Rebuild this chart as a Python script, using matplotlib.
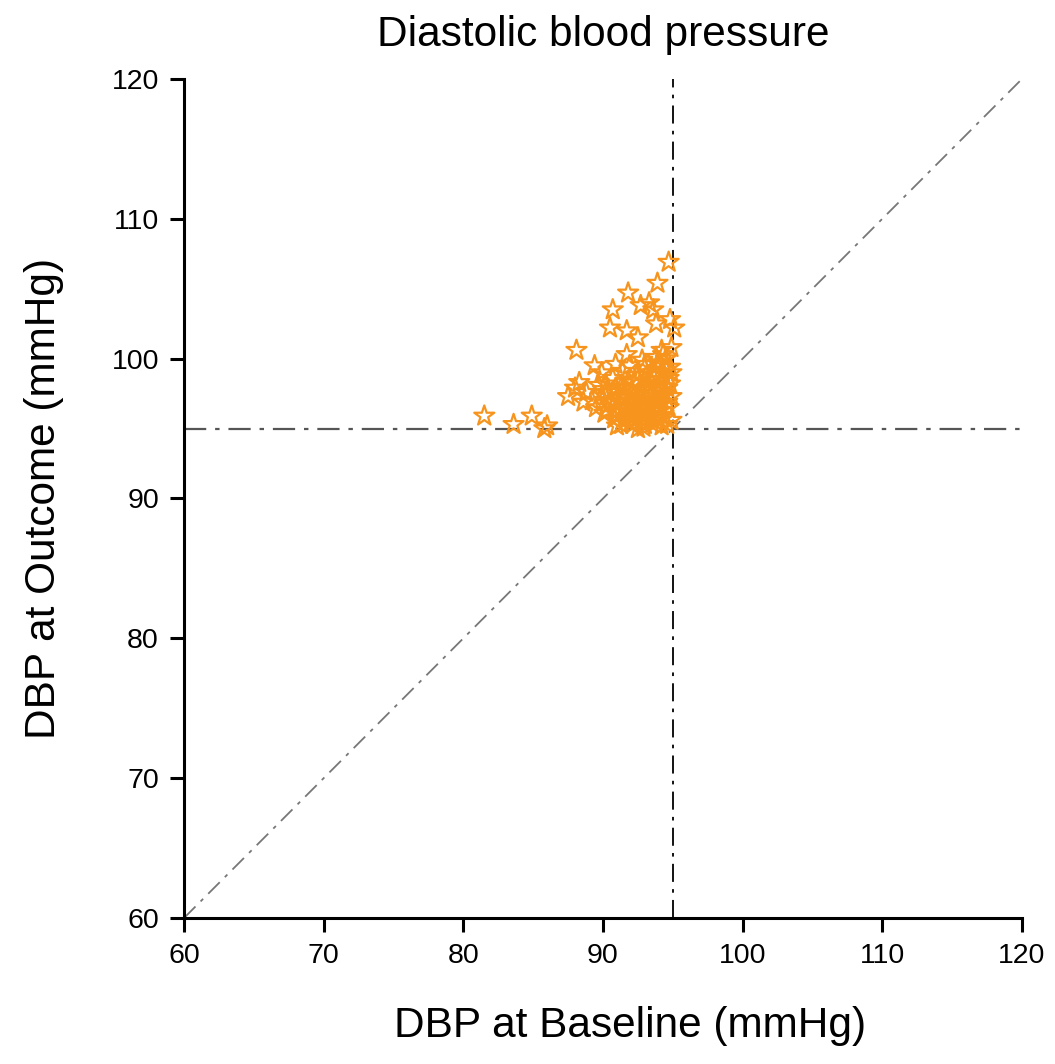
import matplotlib
matplotlib.use("Agg")
import matplotlib.pyplot as plt

plt.rcParams['font.family'] = ['Liberation Sans', 'DejaVu Sans']

# baseline vs outcome DBP (mmHg)
baseline = [81.5, 83.6, 84.9, 86.0, 85.8,
            94.7, 93.9, 91.8, 93.3, 90.7, 92.7, 93.6, 94.8, 95.1, 90.5, 91.7, 92.5, 93.8,
            88.1, 91.7, 89.4, 90.9, 92.8, 93.8, 94.3, 94.9,
            94.0, 94.5, 94.9, 93.7, 94.2, 94.8, 93.9, 94.4, 94.9, 93.6, 94.1, 94.7, 93.8,
            94.4, 94.9, 93.5, 94.2,
            87.5, 88.3, 88.8, 89.2, 89.7, 90.2, 90.5, 90.9, 91.2, 91.5, 91.8, 92.0, 92.3,
            92.6, 92.9, 93.1, 93.3, 91.0, 91.6, 92.1, 92.5, 92.8, 93.2, 90.3, 89.5, 88.6,
            89.9, 90.7, 91.4, 92.4, 93.0, 92.0, 91.3, 92.7, 90.0, 88.0, 93.4, 91.9,
            # dense core
            90.1, 90.6, 91.1, 91.6, 92.1, 92.6, 93.1, 93.6, 94.1, 94.6,
            90.4, 90.9, 91.4, 91.9, 92.4, 92.9, 93.4, 93.9, 94.4, 94.8,
            90.2, 90.8, 91.3, 91.8, 92.2, 92.8, 93.3, 93.8, 94.3, 94.7,
            91.0, 91.5, 92.0, 92.5, 93.0, 93.5, 94.0, 94.5,
            91.2, 91.7, 92.2, 92.7, 93.2, 93.7, 94.2, 94.6,
            92.3, 92.9, 93.5, 94.1, 94.6, 93.0, 93.6, 94.2]
outcome = [95.9, 95.3, 95.9, 95.2, 95.0,
           106.9, 105.4, 104.7, 104.0, 103.5, 103.8, 103.5, 102.8, 102.2, 102.2, 102.0, 101.5, 102.5,
           100.6, 100.3, 99.5, 99.6, 99.9, 100.1, 100.3, 100.8,
           99.6, 99.2, 99.0, 98.8, 98.5, 98.2, 97.9, 97.5, 97.3, 97.0, 96.7, 96.5, 96.2,
           95.8, 95.6, 95.4, 95.2,
           97.3, 98.3, 97.6, 97.0, 98.1, 97.3, 96.8, 97.9, 97.2, 96.5, 98.4, 97.6, 96.9,
           96.2, 97.8, 97.1, 96.4, 96.0, 95.6, 95.3, 95.0, 95.6, 95.8, 96.3, 96.5, 96.9,
           99.0, 98.6, 99.1, 98.8, 99.3, 96.0, 95.3, 97.3, 97.8, 97.9, 98.5, 99.5,
           96.1, 97.0, 96.4, 97.3, 96.7, 97.5, 96.0, 97.7, 96.3, 97.9,
           97.6, 96.2, 97.8, 96.0, 97.1, 96.5, 97.4, 96.8, 98.0, 99.4,
           98.2, 95.7, 98.0, 95.9, 98.3, 95.4, 98.1, 95.5, 99.0, 98.6,
           95.2, 97.9, 95.5, 98.5, 95.3, 99.0, 95.6, 100.0,
           96.9, 96.2, 97.2, 96.6, 97.5, 96.5, 97.7, 96.9,
           95.7, 95.1, 95.9, 99.7, 95.3, 99.6, 98.8, 100.6]

ticks = [60, 70, 80, 90, 100, 110, 120]
cutoff = 95

fig = plt.figure(figsize=(10.55, 10.64), dpi=100)
ax = fig.add_axes([0.1744, 0.1372, 0.7943, 0.7886])

ax.plot([60, 120], [60, 120], color='#777777', lw=1.3, ls='-.', dashes=(9, 4, 2, 4))
ax.axhline(cutoff, color='#555555', lw=1.6, ls='-.', dashes=(10, 4, 2, 4))
ax.axvline(cutoff, color='black', lw=1.3, ls='-.', dashes=(10, 4, 2, 4))

ax.scatter(baseline, outcome, marker='*', s=230, facecolors='none',
           edgecolors='#F7941D', linewidths=1.6, zorder=3)

ax.set_xlim(60, 120)
ax.set_ylim(60, 120)
ax.set_xticks(ticks)
ax.set_yticks(ticks)
for s in ['top', 'right']:
    ax.spines[s].set_visible(False)
for s in ['left', 'bottom']:
    ax.spines[s].set_linewidth(2.2)
ax.tick_params(direction='out', length=10, width=2.2, labelsize=20.5, pad=8)

ax.set_title('Diastolic blood pressure', fontsize=30.5, pad=24)
ax.set_xlabel('DBP at Baseline (mmHg)', fontsize=30.5)
ax.set_ylabel('DBP at Outcome (mmHg)', fontsize=30.5, labelpad=34)
ax.xaxis.set_label_coords(0.532, -0.105)

fig.savefig('out.png', dpi=100)
